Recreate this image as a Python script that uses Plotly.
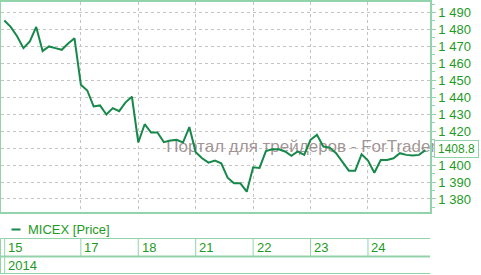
import plotly.graph_objects as go

# ---- data ----
price = [1485.3, 1481.5, 1476.0, 1469.0, 1473.0, 1481.5, 1467.3, 1470.0, 1469.0, 1468.0,
         1471.7, 1474.8, 1447.4, 1444.0, 1434.6, 1435.2, 1429.8, 1433.6, 1431.8, 1437.0,
         1440.3, 1413.3, 1424.1, 1419.2, 1419.2, 1413.5, 1414.5, 1414.9, 1413.3, 1422.4,
         1407.6, 1404.0, 1401.4, 1402.6, 1401.0, 1392.5, 1389.2, 1389.2, 1384.3, 1398.7,
         1398.3, 1408.2, 1409.3, 1409.3, 1408.0, 1405.4, 1408.0, 1406.0, 1414.9, 1417.8,
         1410.9, 1410.3, 1407.0, 1402.0, 1396.7, 1396.7, 1406.4, 1402.6, 1395.5, 1403.0,
         1403.0, 1404.0, 1407.0, 1406.0, 1405.6, 1406.0, 1408.8]
day_labels = ["15", "17", "18", "21", "22", "23", "24"]
day_start_idx = [0, 12, 21, 30, 39, 48, 57]
year_label = "2014"
series_name = "MICEX [Price]"
y_ticks = [1380, 1390, 1400, 1410, 1420, 1430, 1440, 1450, 1460, 1470, 1480, 1490]
y_tick_text = ["1 380", "1 390", "1 400", "", "1 420", "1 430", "1 440", "1 450",
               "1 460", "1 470", "1 480", "1 490"]
last_value_text = "1408.8"
watermark = "Портал для трейдеров - ForTrader.ru"

W, H = 481, 275
LINE = "#16884a"
TXT = "#1f9a25"
FRAME = "#93d3ac"
GRID = "#c4c4c4"
FONT = "Liberation Sans"

def px(x):
    return x / W

def py(y):
    return (H - y) / H

x_idx = list(range(len(price)))

fig = go.Figure()
# watermark drawn under the line
fig.add_trace(go.Scatter(x=[25.4], y=[1410.0], mode="text", text=[watermark],
                         textposition="middle right", cliponaxis=False,
                         textfont=dict(family=FONT, size=17, color="rgba(145,130,130,0.85)"),
                         hoverinfo="skip", showlegend=False))
fig.add_trace(go.Scatter(x=x_idx, y=price, mode="lines", name=series_name,
                         line=dict(color=LINE, width=2), showlegend=False))

fig.update_layout(
    width=W, height=H, margin=dict(l=0, r=0, t=0, b=0),
    paper_bgcolor="white", plot_bgcolor="white",
    font=dict(family=FONT, size=13, color=TXT),
    xaxis=dict(domain=[px(1), px(430)], range=[-0.52, 66.72],
               tickvals=day_start_idx[1:], showticklabels=False, ticks="",
               showgrid=True, gridcolor=GRID, griddash="dot", gridwidth=1,
               showline=True, linecolor=FRAME, linewidth=1.5, mirror=True, zeroline=False),
    yaxis=dict(domain=[py(212), py(1.5)], range=[1372.3, 1496.5], side="right",
               tickvals=y_ticks, ticktext=y_tick_text,
               ticks="outside", ticklen=4, tickcolor=FRAME,
               minor=dict(dtick=5, ticks="outside", ticklen=3, tickcolor=FRAME, showgrid=False),
               showgrid=True, gridcolor=GRID, griddash="dot", gridwidth=1,
               showline=True, linecolor=FRAME, linewidth=1.5, mirror=True, zeroline=False,
               tickfont=dict(family=FONT, size=13, color=TXT)),
)

shapes = []
annots = []
# legend
shapes.append(dict(type="line", xref="paper", yref="paper", x0=px(11.5), x1=px(20.5),
                   y0=py(229.5), y1=py(229.5), line=dict(color=LINE, width=2)))
annots.append(dict(xref="paper", yref="paper", x=px(26), y=py(229), xanchor="left",
                   yanchor="middle", text=series_name, showarrow=False,
                   font=dict(family=FONT, size=13, color=TXT)))
# bottom table
for yl, w in [(238.5, 1), (256.5, 2), (273.5, 1)]:
    shapes.append(dict(type="line", xref="paper", yref="paper", x0=px(0.5), x1=px(430),
                       y0=py(yl), y1=py(yl), line=dict(color=FRAME, width=w)))
for xl in [0.5, 4.7]:
    shapes.append(dict(type="line", xref="paper", yref="paper", x0=px(xl), x1=px(xl),
                       y0=py(238.5), y1=py(274), line=dict(color=FRAME, width=1)))
for lab, idx in zip(day_labels, day_start_idx):
    xb = 4.7 if idx == 0 else 4.3 + idx * 6.38
    if idx != 0:
        shapes.append(dict(type="line", xref="paper", yref="paper", x0=px(xb), x1=px(xb),
                           y0=py(238.5), y1=py(256.5), line=dict(color=FRAME, width=1)))
    annots.append(dict(xref="paper", yref="paper", x=px(xb + 1.5), y=py(247.5),
                       xanchor="left", yanchor="middle", text=lab, showarrow=False,
                       font=dict(family=FONT, size=13, color=TXT)))
annots.append(dict(xref="paper", yref="paper", x=px(6.2), y=py(265.5), xanchor="left",
                   yanchor="middle", text=year_label, showarrow=False,
                   font=dict(family=FONT, size=13, color=TXT)))
# last value box
annots.append(dict(xref="paper", yref="paper", x=px(433.5), y=py(148.5), xanchor="left",
                   yanchor="middle", text=last_value_text, showarrow=False,
                   bgcolor="white", bordercolor=FRAME, borderwidth=1, borderpad=1,
                   width=41, align="center",
                   font=dict(family=FONT, size=12, color=TXT)))

fig.update_layout(shapes=shapes, annotations=annots)
fig.write_html("out.html")
